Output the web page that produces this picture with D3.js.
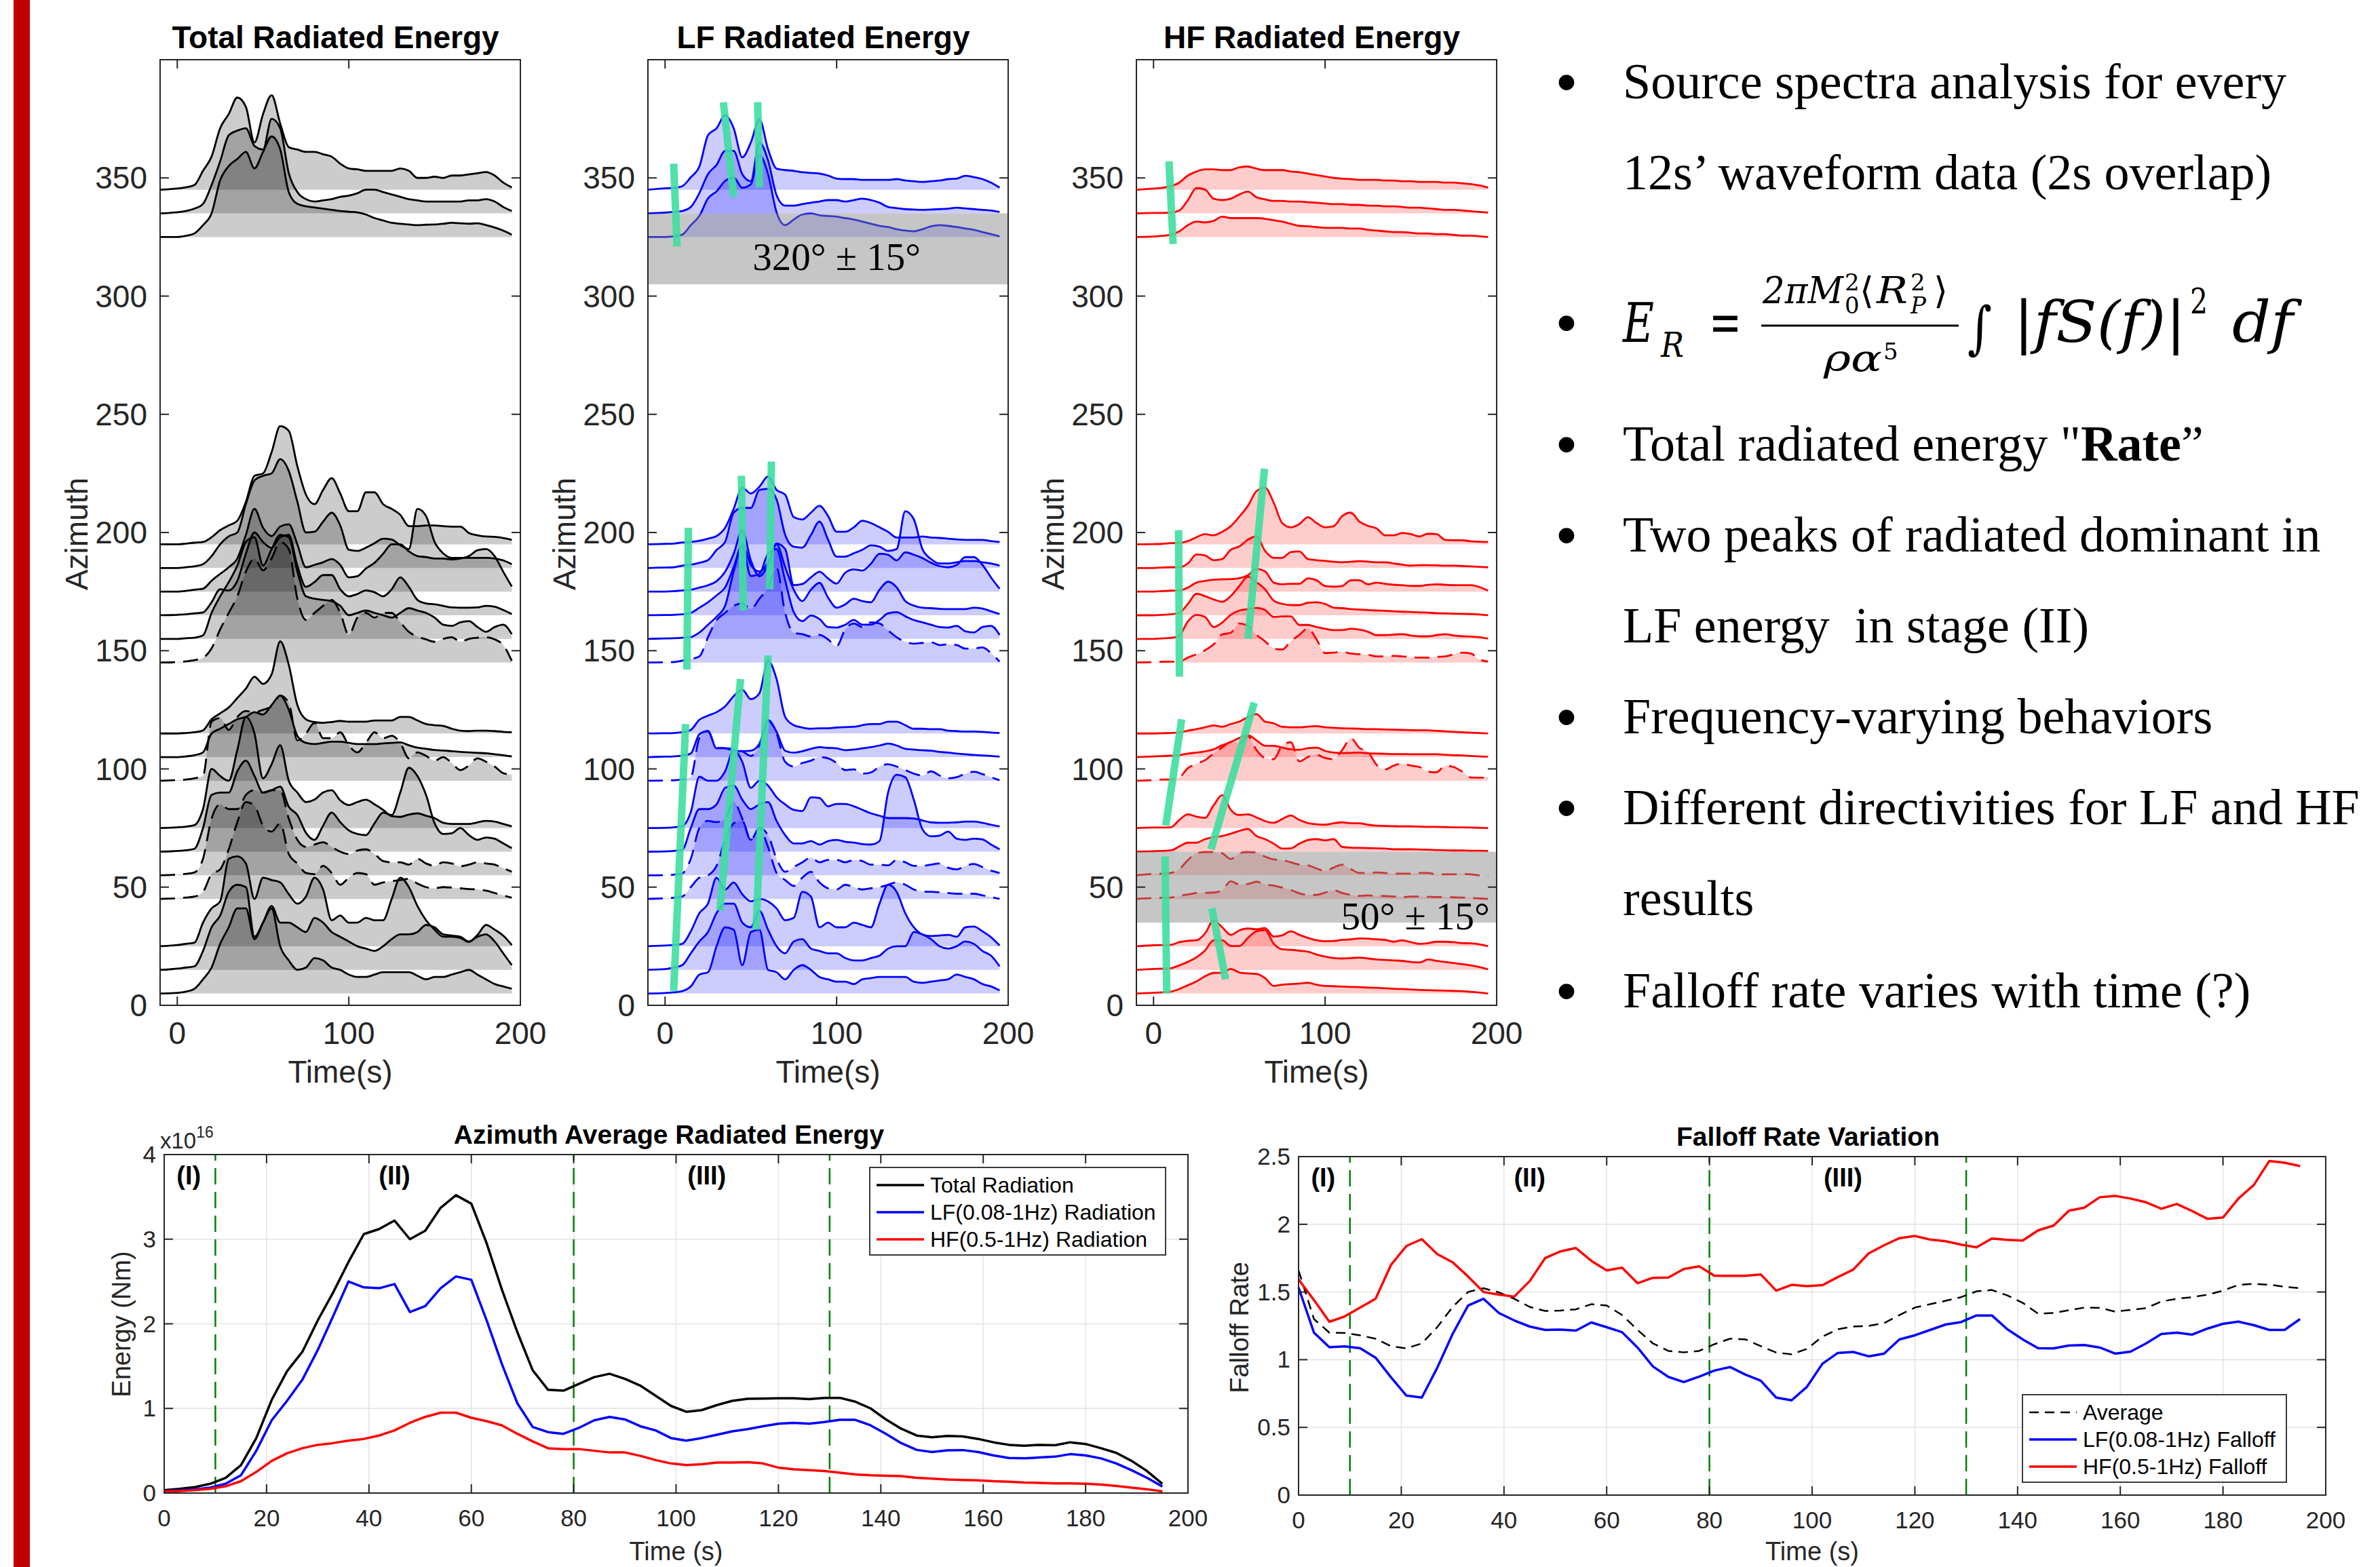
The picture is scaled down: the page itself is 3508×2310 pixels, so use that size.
<!DOCTYPE html>
<html><head><meta charset="utf-8">
<script src="https://cdn.jsdelivr.net/npm/d3@7"></script>
<style>body{margin:0;background:#fff}svg{display:block}</style>
</head><body>
<svg id="c" width="3508" height="2310"></svg>
<script>
// ---------------- DATA ----------------
const RIDGE_TIME = [-10,0,5,10,15,20,25,30,35,40,45,50,55,60,65,70,75,80,85,90,95,100,105,110,115,120,125,130,135,140,145,150,155,160,165,170,175,180,185,190,195];
const TRACE_AZ = [345,335,325,195,185,175,165,155,145,115,105,95,75,65,55,45,25,15,5];
const DASHED_AZ = [145,95,55,45];
const AZ_TICKS = [0,50,100,150,200,250,300,350];
const RIDGE_TIME_TICKS = [0,100,200];

const totalTraces = [
[0,0.5,1,2,8,14,26,32,39,35,20,32,40,28,18,17,16,16,15,14,11,9,8.6,8,8,8,8,9,8,5,5,5.5,5,6,6,6.5,7,7.5,6,3,1],
[0,0.5,1,2,4,12,22,33,35,36,28.5,27,40,36,17,9,6,5,5.5,6,7,7.5,8.5,10,10,9,8,7,6,5.5,5,5,5,5,5,5.5,5.5,6,5,2.7,1],
[0,0,0.5,1.5,5,10,24,30,33,36,29,36,42.5,37,19,14,13,12.5,12,11.5,11,10.7,10.4,9.5,8,7,6,5.6,5.3,5,5.2,5.3,5.6,6,5.8,5.6,5.8,5,4,2.7,1],
[0,0,0.3,0.7,1,3,6,8,10,18,29,30,39,50,48,33,21,17,23,28,21.5,14,14,22,22,17,15,12.5,7.7,7.7,8,8,7.7,7.5,7.5,4.8,3.8,3.3,3.2,2.7,1.9],
[0,0,0.3,0.7,1.6,5,10,13.4,15,27,37,39,40,46,41,28,15,15.3,19.6,23.4,18,7.7,7.2,8.6,10.5,12.4,12,9.6,8,25,22,11,6.2,4.3,4.3,4.3,4.3,4.3,4,3.2,1.6],
[0,0,0.3,0.8,1.2,4.6,7.5,10.3,14,24,35,27,23.5,27.5,28.5,20,10.3,11.3,12.4,13.8,11.3,6,6.5,9.8,12.2,16,20,20,17,15,14.6,14,14,13.6,14,15,17.5,18,15,8.4,2.2],
[0,0.2,0.4,0.8,1.2,5.5,11,10.5,14.5,26,35,31,28.5,33,34,21,12,14,17,17,11,8,9,10.5,9.7,8,11,16,12,6.5,5,4.6,4,3.3,3.2,3.2,3.3,4,3.6,2.2,0.5],
[0,0,0.3,0.5,1.5,11,18,24,31,41,43,31,38,44,43,28.5,18,17,16.5,16,14,10,11,12,11,10,9,11,13,12,11,9,6,5.5,7,7.5,5,3,5,6,2],
[0,0.2,0.5,1,2,6,14,21,28,38.5,44,39,44,51,48,27,18,21,24,26.5,21,11.7,19,21,19,21,21,17,13,11,9.8,8.8,10,10.7,8.8,10,10.5,10.7,9.8,7.4,0.7],
[0,0,0.2,0.5,1.3,6,8.5,11,15,19,24,21,25,39,29,12,6,4.8,4.5,4.8,5.3,5,5,5,5.5,5.5,5.5,7,7,5.5,4,3.5,3.2,2,1.2,1,1.2,1.2,1,0.7,0.5],
[0,0,0.3,0.8,2,10,12,14,16,17,19,18,22,26,20,9,6,5.5,6,6.5,6.5,6,5.5,5.5,5.5,5.8,6,6.2,5,4,3.5,3,2.8,2.5,2.2,2,1.8,1.6,1.2,0.8,0.3],
[0,0.3,0.5,1,2,25,26.5,21.5,27,29.5,29,30,31.5,36,33,17,20,24.5,18,18,20.5,15,12,16,20.5,18,19,16,9.5,12,10.5,8.5,10,7.5,4.5,6.5,9.5,8,6,3.2,2.5],
[0,0.3,0.6,1.2,8,25,22,20,33,47,40,21,27,35,20,15,11,12,15,16,11.7,9.7,11,12,10,7.7,5,4.7,5.7,6.2,5.2,4.2,2.2,1.7,1.7,1.7,2.4,3,2.7,1.7,0.7],
[0,0.3,0.6,1.2,10,24,25,25,34,38.5,32,25,26,27.5,19,15.5,8,5,11,16.5,12.5,9,7.5,7,12,16.5,15.5,25,35.5,32,24,12,7.5,7.8,10,7,5,6,5.5,3.5,1.5],
[0,0.3,0.6,1.2,7,24,30,28,28,34,36,35,36,36,24,15,12,13,14,12,10,9,10.5,11,9,6,5.5,5.5,4.5,7,5,4,5.5,5,3.8,4.5,5.5,5,4.5,3,1.5],
[0,0.3,0.6,1,3,10.5,12.5,21,32.5,41,39.5,31,28.5,32,19,15,11,10.5,14,11,6,9,11,10.5,6,7,7.5,8,8.5,6.5,5,4.5,5,4.8,4.5,4.2,4,3.5,2.5,1.5,0.5],
[0,0.5,1,1.5,10,16,19,37,38,35,20,29,28,27,22,18,21,29,24,11,13,10,10,12,11,11,20,29,25,17,11,7,4,4,3.5,1.8,4.8,9,7,4.5,0.5],
[0,0.5,1,1.5,8,18,23,33,36,35,14,20,27,20,20,18,16,22,20,16,14,12,10,9,8,10,13,15,15,16,19,18,15,14.5,14,12,14,15,12,7,2],
[0,0.3,0.8,2,6,11,21,28,36,36,23,30,36,20,14,10,11,15,14,11,10,8,7,7,8,9,9,9,9,7.5,6,7,7,8,9,10,8,6,4,3,2]
];

const lfTraces = [
[0,0.6,0.8,1.5,5.3,9.8,23,26,31.5,26,13.7,20,29.7,17.2,8.9,8.3,8,7.4,7.1,6.8,6,4.7,4.5,4.5,4.2,4.2,4.2,4.2,4.5,3.9,3.6,3.3,3.6,3.9,4.5,4.7,5.9,5.3,4.5,3,0.9],
[0,0.3,0.6,1,2.7,8.6,16.6,20.5,26.4,26.4,16.6,13.6,30,22.5,7.7,3.3,3.3,3.9,4.5,5,5.6,5.6,5,5.6,6.2,5.6,4.5,2.7,2.2,1.8,1.6,1.5,1.6,1.8,2,2.4,2.1,1.8,1.5,1.2,0.6],
[0,0,0.3,1,5,8.9,16.3,19.3,23.7,25.2,20.8,22.3,34.7,26.7,10.4,5,7.4,9.5,10,9.2,8.9,8.6,8,7.4,6.5,5.6,4.7,4.2,3.3,2.7,2.4,3.3,4.5,5,4.7,4.2,3.6,3,2.1,1.2,0.3],
[0,0.2,0.3,0.8,1,1.5,2.4,3.5,7,15,24,21.5,24.4,28.7,23,21,11.5,10.5,13.4,16.3,12,5.3,5.3,7.2,10,9,7.2,5.3,2.9,2.9,2.9,3.3,2.9,2.7,2.4,2.1,1.9,1.9,1.9,1.4,1],
[0,0.2,0.3,1,1.4,2.2,3.3,7.6,11,23.4,25.4,25.4,33,33.5,29,14,9,8.6,13.9,19.6,12,4.8,4.8,6.2,7.7,9.6,9,7.2,8,24,20.6,8,3.8,1.9,1.9,2.4,2.9,2.9,2.4,1.9,1],
[0,0,0.2,0.5,0.8,1.7,2.7,4.4,8.4,16,26,13.2,6.5,11.3,20.4,18,2.7,3.2,6,8.4,5.6,3.4,8,9.4,8.9,11.8,16,15.6,13.2,16.6,15.6,14.2,12.2,10.8,10.3,11.3,14.6,14.6,11.3,6,1.2],
[0,0.1,0.2,0.4,1,3.2,5.5,8.4,11.8,20.4,30,21.3,18.5,22.3,30,20.4,10.8,6,10.8,13.7,7.5,3.2,4.6,7,6,5.5,10.8,14.2,11.8,6,4.1,3.2,3,2.7,2.6,2.6,2.6,3.2,2.8,1.7,0.5],
[0,0.2,0.3,0.5,0.8,2.7,6,9.4,14,28.5,39,26.6,27.5,36,38,24.7,11.3,7.5,9.9,8.4,5,4.8,6,8,6,6,8,10.8,11.3,9.6,8,7,6,5,4.8,5.5,3.2,2.7,5,5.5,1.7],
[0,0.1,0.2,0.8,1.5,2.6,10.7,17.9,21,24,25,22.7,27,31.8,40,21,12.6,12,11,11.7,9.8,6.9,14,16.5,15,17,16.5,13.6,10.7,8.8,8,8.3,8.6,7.4,7.7,7.4,5.9,5.9,6.4,4,0.4],
[0,0.1,0.2,0.5,1.5,5.8,7.5,9,11.5,15.8,18.5,14.5,17,30.8,23,7,3.5,2.5,2,2.2,2.2,2.5,2.7,2.8,3.5,4,4,5,5,3.5,2,2,1.8,1.8,1.2,1,0.8,0.8,0.7,0.4,0.2],
[0,0.2,0.3,0.6,1.5,9.7,11,3.7,3.7,2.7,2.5,2.7,5.7,15.7,10.7,2.7,1.9,2.5,3.5,4.2,3.9,3.7,2.9,3.2,3.7,4.2,4.9,5.7,4.9,3.5,3.2,2.9,2.7,2.2,1.9,1.5,1.2,0.9,0.7,0.5,0.2],
[0,0.1,0.2,0.5,1.5,18,21,14,13.8,13.5,12.5,10.5,15,25.5,20,8,6,7.5,8.5,10,9.5,7.5,4.5,4.8,3,3.5,6,7,6,4.5,3,2.2,4,2.2,1,1.5,3,3.8,2.8,1.5,0.2],
[0,0.1,0.3,0.8,6.7,21.7,20,20,24,33,28,17,20,18,13,10,7.7,7.2,13,12.7,9.2,10.2,10.2,9.2,7.7,6.2,5.2,4.2,4.2,4.2,4,3.2,2.4,2.2,2.2,2.4,2.7,2.7,2.2,1.4,0.7],
[0,0.1,0.3,0.8,10,18,18,20,27,28,22,18,20,21,13,7,3.5,3.5,4.5,3,4.5,5,4.2,3.8,3.2,3,4.5,25,32.5,31.5,22,9.5,6.5,6.8,8.5,5.5,5,5.5,5.2,3,1],
[0,0.1,0.3,0.8,7,20,23,22.5,24,31,24,15,20,17,7,1.5,3.5,5.5,7.5,5.5,6.5,6.5,5.5,6.5,6,4.5,4.5,4.2,6.5,5.5,4,4,4.5,5,3.2,2.5,4,4.8,3.5,2,1],
[0,0.3,0.5,1,5,9,10,14,25,32,33,25,30,22,11,8,5.5,9,11.5,7,4.5,4,6,5,4,4.5,5,6,7,6,4,3.2,3,2.8,2.5,2.2,2.2,2.2,1.5,0.8,0],
[0,0.3,0.5,1,6.3,14,18,29,24,27,22,19,20,19,16,11,12,23,21,8,10,8,8,10,9,8,18,26,23,14,8,5,4.3,4.5,4.8,4,8,8.3,6.3,3.8,0.3],
[0,0.3,1,2,7,12,16,24,28,28,20,18,25,17,10,7,12,13,9,8,7,7,5,4,4,5,6,9,10,10,16,15,13,10,9,10,12,11,8,6,1.5],
[0,0.2,0.5,1,3,8,9,20,28,27,12,26,27,10,9,6,10,12,10,7,6,5,5,4,6,6.5,7,7,7,7,5,4.5,5,5.5,6,8,7,6,4,3,1.3]
];

const hfTraces = [
[0,0.5,0.8,1.5,3,6,7.7,8.6,8.6,8.3,8.3,9.5,9.8,8.9,8.3,8.3,8.3,7.7,7.4,6.8,6.2,5.6,5,4.7,4.5,4.2,4.2,4.2,3.9,3.9,3.6,3.6,3.3,3.3,3.3,3,3,2.7,2.4,1.8,0.9],
[0,0.2,0.2,0.3,1.2,5.6,10.7,10.1,6.2,5.6,6.2,8,9.2,6.8,5.9,5.3,5.3,5,5,4.7,4.5,4.2,3.9,3.9,3.6,3.6,3.3,3.3,3,3,2.7,2.4,2.4,2.1,1.8,1.5,1.5,1.2,0.9,0.6,0.3],
[0,0.2,0.5,0.9,2.4,5,6.5,6.2,6.8,8.6,8,8,8,8,7.7,7.1,6.5,5.6,4.7,4.5,4.2,3.9,3.9,3.9,3.6,3.6,3,2.7,2.4,2.1,2.1,1.8,1.5,1.5,1.2,1.2,0.9,0.6,0.6,0.3,0],
[0,0.1,0.2,0.5,0.6,1.4,3,4.3,3.8,5.3,7.7,11.7,16.3,22.5,24,17.7,9,7.2,8.6,11.5,9,7.2,7.7,12,13.4,9.6,7.8,6.7,3.8,3.8,4.8,4.3,3.3,4.5,4.3,1.9,1.7,1.7,1.3,1.1,1],
[0,0,0.2,0.3,0.3,1.9,5.7,5.3,3.3,3.8,7.7,9.1,12,13.4,7.2,4.3,4.3,6.7,7,3.8,3.3,3,2.6,2.4,2.6,2.9,2.7,2.4,2.4,1.9,1.4,1,1.2,1.2,1.1,1,1,0.8,0.7,0.5,0.3],
[0,0,0.2,0.4,0.5,1.7,3.8,4.5,5,5.2,5.3,5.7,6.9,9.6,8.6,3.8,3.1,3.3,3.3,5.6,4.8,2.4,2.1,2.4,4.8,4.8,3.1,3.8,3.3,2.9,2.7,2.4,2.4,2.9,3.1,2.9,2.7,2.7,2.7,1.9,0.4],
[0,0,0.2,0.4,1,4.8,9.1,8.1,6.7,5.7,8.1,12.4,16.3,13.9,11,6.2,4.8,4.3,4.3,5.3,5.5,4.8,3.2,3,2.6,2.4,2.2,2,1.9,1.7,1.5,1.4,1.2,1.1,0.9,0.8,0.7,0.6,0.5,0.3,0],
[0,0,0.2,0.4,1.4,7.4,10.2,9.3,5,6.9,10.2,12,12.6,13.1,12.2,9.3,9.5,9.5,5.9,5.9,5,4.3,3.7,3.7,4.3,3.9,3,1.6,1.6,1.8,2,1.4,1.1,1.1,1.6,2,1.4,1.1,1,0.7,0.1],
[0,0.2,0.3,0.4,0.4,2.1,3.5,5.2,7.7,11.9,12.6,16.5,15.5,11.7,9,5.9,5.5,9,11.7,14.5,9.8,4,4.2,4.5,3.8,3.5,3.3,2.6,2.6,2.8,2.6,2.3,2.1,2.1,2.4,2.6,3.5,4.2,3.8,1.3,0.4],
[0,0,0.1,0.2,0.4,1.2,1.8,2.6,3.4,2.8,4,5,6.9,8.2,5,4.3,2.8,2.6,2.6,2.9,3.1,2.6,2.4,2.2,2.1,2,1.8,1.8,1.7,1.6,1.5,1.4,1.3,1.3,1.1,0.9,0.7,0.5,0.3,0.2,0],
[0,0.3,0.4,0.6,0.8,1.5,1.9,2.4,3.3,5,6.4,8.1,9.3,7.1,4.8,4.8,4,3.3,3.1,3.8,4,2.6,1.9,1.7,1.8,1.9,1.6,1.5,1.4,1.3,1.3,1.2,1.2,1.2,1.2,1,0.8,0.7,0.5,0.3,0.2],
[0,0.3,0.5,0.5,1.4,5.3,7.2,8.7,11.5,14.1,16.3,15.9,18.8,13,9.6,9.1,14.9,16.3,8.2,10.1,11,9.6,9.1,13,18,13.9,12.2,6.7,4.8,6.4,7.2,6.4,5.8,3.8,3.6,6.4,5.8,3.8,1.4,1.3,1.4],
[0,0.2,0.2,0.3,3.4,5.8,4.8,4.3,9.6,13.9,7.7,5.5,5.8,4.5,2.9,2.2,3.8,5.3,3.4,2.1,1.6,1.4,2,2.4,2,2,1.4,1,0.9,0.8,0.7,0.7,0.6,0.5,0.5,0.4,0.3,0.3,0.2,0.1,0],
[0,0.2,0.3,0.5,2.2,3.8,3.8,5.3,6.1,6.6,7.6,8.8,9.6,6.6,5.3,3.4,1.3,1.4,3.4,4.9,5.3,4.8,5.3,2,1.7,1.6,1.5,1.4,1.3,1,1,1,0.9,0.8,0.7,0.6,0.5,0.5,0.4,0.4,0.3],
[0,0.6,0.7,1,2.6,6.4,9.3,9.8,9.8,9.3,6.9,9.3,9.8,9.6,7.9,6.7,6.4,5.5,4.5,4.2,2.9,1.9,3.3,4.5,2.6,1,1,1.2,1,0.7,0.7,0.7,1,1,0.4,0.4,0.4,0.6,0.4,0,0],
[0,0.4,0.5,0.6,1.3,1.9,2.5,2.6,2.7,3.7,7.5,6.1,6.3,7.3,6.1,5.6,4.8,3.8,2.4,1.7,1.7,2.7,3.7,2.5,1.7,1.3,1.5,1.3,1.2,1,0.8,1,1,0.9,0.8,0.8,0.7,0.6,0.4,0.2,0],
[0,0.4,0.5,0.6,1.7,2.3,2.5,5.4,10.9,8,4.8,6.7,7.5,7.2,7.7,4.1,4.6,6.3,4.8,3.5,2.5,2.1,2.2,2.7,2.9,3.3,3.2,2.9,2.7,1.9,2.5,1.7,1,1.3,1.9,1.9,1.7,1.3,1.2,0.8,0],
[0,0.4,0.5,0.7,1.9,3.4,5.3,8.2,12.5,12.5,10.1,10.1,13.5,16.3,16.8,11.1,8.7,8.5,8.1,7.7,6.5,5.6,5,4.8,5,5.2,4.8,4.4,4.2,4,3.8,3.3,3.1,4.4,3.8,3.3,2.9,2.4,1.9,1.2,0.2],
[0,0.3,0.5,0.8,1.9,3.5,5.1,7.3,8.7,8.8,10.4,8.9,8.5,8.3,6.5,3.2,3.7,4,4.2,4.6,3.7,3.2,3.1,2.9,2.8,2.7,2.5,2.4,2.2,2,1.9,1.7,1.5,1.4,1.3,1.2,1.1,1,0.7,0.4,0]
];

// directivity marks: [t1, az1, t2, az2]
const lfMarks = [[5,356,7,321],[34,382,40,342],[54,382,55,346],[13.6,202,12.7,142],[44.5,224,45.6,167],[62,230,61,176],[12,119,5,6],[44,138,32,40],[60,148,53,32]];
const hfMarks = [[9,357,11.4,322],[14.6,201,15.1,139],[64.7,227,55,155],[16.4,121,7.1,76],[58.7,128,33.5,66],[6.7,63,7.7,5],[34,41,42,11]];
const lfBand = [305,335], lfBandLabel = "320° ± 15°", lfBandLabelAt = [100,311];
const hfBand = [35,65], hfBandLabel = "50° ± 15°", hfBandLabelAt = [196,32];

// azimuth-average curves
const AVG_TIME = [0,3,6,9,12,15,18,21,24,27,30,33,36,39,42,45,48,51,54,57,60,63,66,69,72,75,78,81,84,87,90,93,96,99,102,105,108,111,114,117,120,123,126,129,132,135,138,141,144,147,150,153,156,159,162,165,168,171,174,177,180,183,186,189,192,195];
const totalEnergy = [0.035,0.05,0.07,0.11,0.18,0.33,0.65,1.10,1.44,1.67,2.04,2.37,2.73,3.06,3.12,3.22,3.00,3.10,3.37,3.52,3.42,2.95,2.40,1.90,1.45,1.22,1.21,1.29,1.37,1.41,1.35,1.27,1.15,1.03,0.96,0.98,1.04,1.09,1.115,1.117,1.12,1.12,1.11,1.125,1.125,1.08,1.00,0.87,0.76,0.68,0.66,0.675,0.67,0.64,0.60,0.57,0.56,0.57,0.565,0.60,0.58,0.53,0.475,0.38,0.26,0.11];
const lfEnergy = [0.024,0.03,0.042,0.065,0.11,0.21,0.5,0.86,1.09,1.34,1.69,2.09,2.5,2.43,2.42,2.47,2.14,2.21,2.42,2.56,2.52,2.04,1.52,1.06,0.78,0.72,0.70,0.77,0.86,0.90,0.87,0.79,0.74,0.65,0.62,0.65,0.69,0.73,0.755,0.79,0.82,0.83,0.82,0.84,0.865,0.865,0.80,0.70,0.59,0.51,0.485,0.505,0.508,0.485,0.445,0.415,0.41,0.42,0.43,0.46,0.445,0.41,0.35,0.27,0.18,0.077];
const hfEnergy = [0.02,0.025,0.035,0.05,0.08,0.14,0.25,0.38,0.47,0.53,0.57,0.59,0.62,0.64,0.68,0.74,0.83,0.90,0.95,0.95,0.89,0.85,0.80,0.70,0.61,0.53,0.52,0.52,0.50,0.48,0.48,0.44,0.39,0.35,0.33,0.34,0.36,0.36,0.365,0.35,0.30,0.28,0.27,0.26,0.24,0.22,0.21,0.205,0.20,0.18,0.17,0.16,0.155,0.15,0.14,0.135,0.125,0.12,0.115,0.115,0.11,0.10,0.085,0.065,0.045,0.02];
const avgFalloff = [1.659,1.30,1.20,1.197,1.18,1.155,1.10,1.084,1.12,1.24,1.39,1.50,1.528,1.497,1.45,1.39,1.36,1.363,1.372,1.41,1.40,1.33,1.22,1.12,1.065,1.054,1.065,1.115,1.155,1.15,1.10,1.053,1.04,1.08,1.17,1.225,1.245,1.25,1.27,1.33,1.385,1.41,1.435,1.462,1.505,1.515,1.475,1.42,1.34,1.345,1.365,1.385,1.383,1.355,1.368,1.38,1.43,1.45,1.462,1.48,1.51,1.553,1.56,1.554,1.539,1.528];
const lfFalloff = [1.533,1.20,1.092,1.098,1.085,1.015,0.87,0.735,0.72,0.94,1.19,1.40,1.45,1.345,1.29,1.245,1.22,1.223,1.215,1.275,1.24,1.203,1.09,0.95,0.873,0.835,0.875,0.92,0.946,0.89,0.845,0.72,0.70,0.80,0.97,1.05,1.057,1.025,1.045,1.15,1.18,1.22,1.26,1.278,1.327,1.327,1.225,1.15,1.085,1.083,1.105,1.108,1.09,1.045,1.06,1.12,1.19,1.20,1.185,1.23,1.265,1.281,1.255,1.22,1.22,1.30];
const hfFalloff = [1.593,1.44,1.28,1.32,1.385,1.45,1.70,1.84,1.89,1.78,1.72,1.615,1.50,1.48,1.466,1.58,1.75,1.80,1.825,1.73,1.66,1.68,1.565,1.605,1.607,1.67,1.69,1.62,1.62,1.62,1.63,1.51,1.553,1.543,1.55,1.61,1.665,1.785,1.845,1.898,1.914,1.887,1.875,1.85,1.83,1.895,1.885,1.88,1.955,1.99,2.10,2.123,2.20,2.21,2.19,2.163,2.115,2.15,2.098,2.04,2.05,2.19,2.29,2.467,2.455,2.43];
const STAGE_BOUNDS = [10,80,130];
const STAGE_LABELS = ["(I)","(II)","(III)"];
const STAGE_LABEL_T = [4.8,45,106];
const TIME_TICKS = [0,20,40,60,80,100,120,140,160,180,200];
const ENERGY_TICKS = [0,1,2,3,4];
const FALLOFF_TICKS = [0,0.5,1,1.5,2,2.5];
const energyLegend = ["Total Radiation","LF(0.08-1Hz) Radiation","HF(0.5-1Hz) Radiation"];
const falloffLegend = ["Average","LF(0.08-1Hz) Falloff","HF(0.5-1Hz) Falloff"];

// ---------------- DRAWING ----------------
const svg = d3.select('#c');
const AX = '#262626';
const SANS = "'Liberation Sans', Arial, Helvetica, sans-serif";
const SERIF = "'Liberation Serif', 'Times New Roman', serif";
svg.append('rect').attr('width',3508).attr('height',2310).attr('fill','#fff');
svg.append('rect').attr('x',20).attr('y',0).attr('width',24).attr('height',2310).attr('fill','#c00000');

function ridge(cfg){
  const x = d3.scaleLinear().domain([-10,200]).range([cfg.x0,cfg.x1]);
  const y = d3.scaleLinear().domain([0,400]).range([1482,88]);
  const g = svg.append('g');
  const series = cfg.traces.map((vals,i)=>({az:TRACE_AZ[i], pts:RIDGE_TIME.map((t,j)=>[t,vals[j]])}));
  series.forEach(s=>{
    const area = d3.area().x(d=>x(d[0])).y0(y(s.az)).y1(d=>y(s.az+d[1])).curve(d3.curveMonotoneX);
    g.append('path').attr('d',area(s.pts)).attr('fill',cfg.fill).attr('fill-opacity',0.2);
  });
  series.forEach(s=>{
    const line = d3.line().x(d=>x(d[0])).y(d=>y(s.az+d[1])).curve(d3.curveMonotoneX);
    g.append('path').attr('d',line(s.pts)).attr('fill','none').attr('stroke',cfg.stroke)
      .attr('stroke-width',2.8).attr('stroke-linejoin','round')
      .attr('stroke-dasharray',DASHED_AZ.includes(s.az)?'22,12':null);
  });
  if(cfg.band){
    g.append('rect').attr('x',x(-10)).attr('width',x(200)-x(-10))
      .attr('y',y(cfg.band[1])).attr('height',y(cfg.band[0])-y(cfg.band[1]))
      .attr('fill','#808080').attr('fill-opacity',0.45);
    g.append('text').attr('x',x(cfg.bandLabelAt[0])).attr('y',y(cfg.bandLabelAt[1]))
      .attr('text-anchor',cfg.bandAnchor).attr('font-family',SERIF).attr('font-size',57)
      .attr('fill','#000').text(cfg.bandLabel);
  }
  (cfg.marks||[]).forEach(m=>{
    g.append('line').attr('x1',x(m[0])).attr('y1',y(m[1])).attr('x2',x(m[2])).attr('y2',y(m[3]))
      .attr('stroke','rgb(62,222,160)').attr('stroke-opacity',0.9).attr('stroke-width',11);
  });
  // box + ticks
  g.append('rect').attr('x',cfg.x0).attr('y',88).attr('width',cfg.x1-cfg.x0).attr('height',1482-88)
    .attr('fill','none').attr('stroke',AX).attr('stroke-width',2);
  AZ_TICKS.forEach(v=>{
    g.append('line').attr('x1',cfg.x0).attr('x2',cfg.x0+13).attr('y1',y(v)).attr('y2',y(v)).attr('stroke',AX).attr('stroke-width',2);
    g.append('line').attr('x1',cfg.x1).attr('x2',cfg.x1-13).attr('y1',y(v)).attr('y2',y(v)).attr('stroke',AX).attr('stroke-width',2);
    g.append('text').attr('x',cfg.x0-19).attr('y',y(v)+16).attr('text-anchor','end')
      .attr('font-family',SANS).attr('font-size',46).attr('fill',AX).text(v);
  });
  RIDGE_TIME_TICKS.forEach(v=>{
    g.append('line').attr('x1',x(v)).attr('x2',x(v)).attr('y1',1482).attr('y2',1469).attr('stroke',AX).attr('stroke-width',2);
    g.append('line').attr('x1',x(v)).attr('x2',x(v)).attr('y1',88).attr('y2',101).attr('stroke',AX).attr('stroke-width',2);
    g.append('text').attr('x',x(v)).attr('y',1539).attr('text-anchor','middle')
      .attr('font-family',SANS).attr('font-size',46).attr('fill',AX).text(v);
  });
  g.append('text').attr('x',(cfg.x0+cfg.x1)/2).attr('y',1596).attr('text-anchor','middle')
    .attr('font-family',SANS).attr('font-size',46).attr('fill',AX).text('Time(s)');
  g.append('text').attr('transform',`translate(${cfg.x0-107},787) rotate(-90)`).attr('text-anchor','middle')
    .attr('font-family',SANS).attr('font-size',46).attr('fill',AX).text('Azimuth');
  g.append('text').attr('x',(cfg.x0+cfg.x1)/2-7).attr('y',71).attr('text-anchor','middle')
    .attr('font-family',SANS).attr('font-weight','bold').attr('font-size',46).attr('fill','#000').text(cfg.title);
}

ridge({x0:236,x1:767,traces:totalTraces,fill:'#000',stroke:'#000',title:'Total Radiated Energy'});
ridge({x0:955,x1:1486,traces:lfTraces,fill:'#0000ff',stroke:'#0000ff',title:'LF Radiated Energy',
  marks:lfMarks,band:lfBand,bandLabel:lfBandLabel,bandLabelAt:lfBandLabelAt,bandAnchor:'middle'});
ridge({x0:1675,x1:2206,traces:hfTraces,fill:'#ff0000',stroke:'#ff0000',title:'HF Radiated Energy',
  marks:hfMarks,band:hfBand,bandLabel:hfBandLabel,bandLabelAt:hfBandLabelAt,bandAnchor:'end'});

function lineChart(cfg){
  const x = d3.scaleLinear().domain([0,200]).range([cfg.x0,cfg.x1]);
  const y = d3.scaleLinear().domain(cfg.ydom).range([cfg.y0,cfg.y1]);
  const g = svg.append('g');
  TIME_TICKS.forEach(v=>{ if(v>0&&v<200) g.append('line').attr('x1',x(v)).attr('x2',x(v)).attr('y1',cfg.y0).attr('y2',cfg.y1).attr('stroke','#e3e3e3').attr('stroke-width',1.5);});
  cfg.yticks.forEach(v=>{ if(v>cfg.ydom[0]&&v<cfg.ydom[1]) g.append('line').attr('x1',cfg.x0).attr('x2',cfg.x1).attr('y1',y(v)).attr('y2',y(v)).attr('stroke','#e3e3e3').attr('stroke-width',1.5);});
  STAGE_BOUNDS.forEach(v=>{
    g.append('line').attr('x1',x(v)).attr('x2',x(v)).attr('y1',cfg.y0).attr('y2',cfg.y1)
      .attr('stroke','#008000').attr('stroke-width',2.5).attr('stroke-dasharray','24,11');
  });
  STAGE_LABELS.forEach((s,i)=>{
    g.append('text').attr('x',x(STAGE_LABEL_T[i])).attr('y',cfg.y1+44).attr('text-anchor','middle')
      .attr('font-family',SANS).attr('font-weight','bold').attr('font-size',38).attr('fill','#000').text(s);
  });
  cfg.series.forEach(s=>{
    const line = d3.line().x((d,i)=>x(AVG_TIME[i])).y(d=>y(d));
    g.append('path').attr('d',line(s.v)).attr('fill','none').attr('stroke',s.c).attr('stroke-width',s.w)
      .attr('stroke-linejoin','round').attr('stroke-dasharray',s.dash||null);
  });
  g.append('rect').attr('x',cfg.x0).attr('y',cfg.y1).attr('width',cfg.x1-cfg.x0).attr('height',cfg.y0-cfg.y1)
    .attr('fill','none').attr('stroke',AX).attr('stroke-width',2);
  TIME_TICKS.forEach(v=>{
    g.append('line').attr('x1',x(v)).attr('x2',x(v)).attr('y1',cfg.y0).attr('y2',cfg.y0-13).attr('stroke',AX).attr('stroke-width',2);
    g.append('line').attr('x1',x(v)).attr('x2',x(v)).attr('y1',cfg.y1).attr('y2',cfg.y1+13).attr('stroke',AX).attr('stroke-width',2);
    g.append('text').attr('x',x(v)).attr('y',cfg.y0+49).attr('text-anchor','middle')
      .attr('font-family',SANS).attr('font-size',35).attr('fill',AX).text(v);
  });
  cfg.yticks.forEach(v=>{
    g.append('line').attr('x1',cfg.x0).attr('x2',cfg.x0+13).attr('y1',y(v)).attr('y2',y(v)).attr('stroke',AX).attr('stroke-width',2);
    g.append('line').attr('x1',cfg.x1).attr('x2',cfg.x1-13).attr('y1',y(v)).attr('y2',y(v)).attr('stroke',AX).attr('stroke-width',2);
    g.append('text').attr('x',cfg.x0-12).attr('y',y(v)+12).attr('text-anchor','end')
      .attr('font-family',SANS).attr('font-size',35).attr('fill',AX).text(v);
  });
  g.append('text').attr('x',(cfg.x0+cfg.x1)/2).attr('y',2300).attr('text-anchor','middle')
    .attr('font-family',SANS).attr('font-size',38).attr('fill',AX).text('Time (s)');
  g.append('text').attr('transform',`translate(${cfg.ylabX},${cfg.ylabY}) rotate(-90)`).attr('text-anchor','middle')
    .attr('font-family',SANS).attr('font-size',38).attr('fill',AX).text(cfg.ylabel);
  g.append('text').attr('x',cfg.titleX).attr('y',cfg.y1-16).attr('text-anchor','middle')
    .attr('font-family',SANS).attr('font-weight','bold').attr('font-size',39).attr('fill','#000').text(cfg.title);
  // legend
  const L = cfg.legend;
  g.append('rect').attr('x',L.x).attr('y',L.y).attr('width',L.w).attr('height',L.h)
    .attr('fill','#fff').attr('stroke',AX).attr('stroke-width',1.8);
  cfg.series.forEach((s,i)=>{
    const yy = L.y + 26 + i*40;
    g.append('line').attr('x1',L.x+10).attr('x2',L.x+80).attr('y1',yy).attr('y2',yy)
      .attr('stroke',s.c).attr('stroke-width',s.w).attr('stroke-dasharray',s.dash||null);
    g.append('text').attr('x',L.x+89).attr('y',yy+11).attr('font-family',SANS).attr('font-size',32)
      .attr('fill','#000').text(L.labels[i]);
  });
  return g;
}

const gE = lineChart({x0:242,x1:1751,y0:2201,y1:1702,ydom:[0,4],yticks:ENERGY_TICKS,
  series:[{v:totalEnergy,c:'#000',w:3.5},{v:lfEnergy,c:'#0000ff',w:3.5},{v:hfEnergy,c:'#ff0000',w:3.5}],
  ylabel:'Energy (Nm)',ylabX:192,ylabY:1952,title:'Azimuth Average Radiated Energy',titleX:986,
  legend:{x:1282,y:1721,w:436,h:129,labels:energyLegend}});
gE.append('text').attr('x',236).attr('y',1693).attr('font-family',SANS).attr('font-size',33).attr('fill',AX)
  .text('x10').append('tspan').attr('dy',-16).attr('font-size',23).text('16');

lineChart({x0:1914,x1:3428,y0:2204,y1:1705,ydom:[0,2.5],yticks:FALLOFF_TICKS,
  series:[{v:avgFalloff,c:'#000',w:2.5,dash:'14,9'},{v:lfFalloff,c:'#0000ff',w:3.5},{v:hfFalloff,c:'#ff0000',w:3.5}],
  ylabel:'Falloff Rate',ylabX:1840,ylabY:1957,title:'Falloff Rate Variation',titleX:2665,
  legend:{x:2981,y:2056,w:389,h:129,labels:falloffLegend}});

// ---------------- TEXT PANEL ----------------
const tp = svg.append('g');
const BULLET_LINES = [
  {y:145, b:true,  t:'Source spectra analysis for every'},
  {y:279, b:false, t:'12s’ waveform data (2s overlap)'},
  {y:679, b:true,  t:'Total radiated energy "', bold:'Rate', tail:'”'},
  {y:813, b:true,  t:'Two peaks of radiated dominant in'},
  {y:947, b:false, t:'LF energy\u00a0\u00a0in stage (II)'},
  {y:1081,b:true,  t:'Frequency-varying behaviors'},
  {y:1215,b:true,  t:'Different directivities for LF and HF'},
  {y:1349,b:false, t:'results'},
  {y:1485,b:true,  t:'Falloff rate varies with time (?)'}
];
function bullet(yb){
  tp.append('text').attr('x',2309).attr('y',yb+4).attr('text-anchor','middle').attr('font-family',SANS)
    .attr('font-size',84).attr('fill','#000').text('•');
}
BULLET_LINES.forEach(L=>{
  if(L.b) bullet(L.y);
  const t = tp.append('text').attr('x',2392).attr('y',L.y).attr('font-family',SERIF).attr('font-size',74).attr('fill','#000');
  t.append('tspan').text(L.t);
  if(L.bold){ t.append('tspan').attr('font-weight','bold').text(L.bold); t.append('tspan').text(L.tail); }
});
bullet(500);
const MF = "'DejaVu Serif', serif";
function mt(x,y,s,txt,opt){
  opt=opt||{};
  const e = tp.append('text').attr('x',x).attr('y',y).attr('font-family',opt.f||MF).attr('font-size',s)
    .attr('font-style',opt.it===false?'normal':'italic').attr('fill','#000').attr('text-anchor',opt.a||'start').text(txt);
  if(opt.w) e.attr('textLength',opt.w).attr('lengthAdjust','spacingAndGlyphs');
}
mt(2392,504,80,'E',{w:46});
mt(2448,526,50,'R',{w:34});
mt(2519,504,84,'=',{it:false,w:48});
mt(2598,447,54,'2πM',{w:119});
mt(2719,428,34,'2',{it:false});
mt(2719,462,34,'0',{it:false});
mt(2741,447,54,'⟨',{it:false,f:"'DejaVu Sans', sans-serif"});
mt(2766,447,54,'R',{w:46});
mt(2816,428,34,'2',{it:false});
mt(2816,462,34,'P');
mt(2850,447,54,'⟩',{it:false,f:"'DejaVu Sans', sans-serif"});
tp.append('line').attr('x1',2596).attr('x2',2887).attr('y1',480).attr('y2',480).attr('stroke','#000').attr('stroke-width',3);
mt(2688,547,54,'ρα',{w:86});
mt(2776,530,34,'5',{it:false});
mt(2900,512,84,'∫',{it:false,w:36});
mt(2968,504,84,'|fS(f)|',{w:254});
mt(3228,462,52,'2',{it:false,w:26});
mt(3290,504,84,'df',{w:90});
</script>
</body></html>
